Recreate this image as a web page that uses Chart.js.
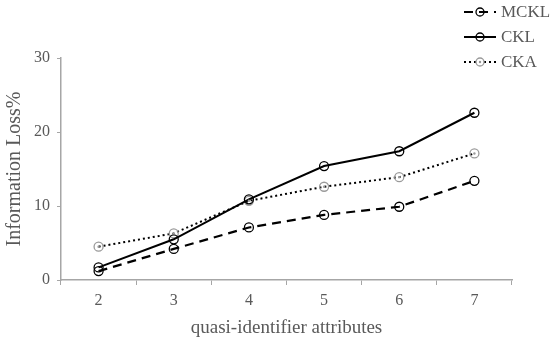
<!DOCTYPE html>
<html><head><meta charset="utf-8">
<script src="https://cdn.jsdelivr.net/npm/chart.js@4.4.1/dist/chart.umd.min.js"></script>
<style>html,body{margin:0;padding:0;background:#fff}#w{width:550px;height:342px}</style>
</head><body><div id="w"><canvas id="c"></canvas></div>
<script>
const categories = ['2','3','4','5','6','7'];
const mckl = [1.2, 4.2, 7.1, 8.8, 9.9, 13.4];
const ckl  = [1.7, 5.5, 10.9, 15.4, 17.4, 22.6];
const cka  = [4.5, 6.3, 10.7, 12.6, 13.9, 17.1];
const seriesNames = ['MCKL','CKL','CKA'];
const yTicks = [0, 10, 20, 30];

const FONT = "'Liberation Serif','DejaVu Serif',serif";
const TXT = '#595959';
const AX = '#a6a6a6';

const legendPlugin = {
  id: 'sideLegend',
  afterDraw(chart) {
    const ctx = chart.ctx;
    ctx.save();
    chart.data.datasets.forEach((ds, i) => {
      const y = 12 + i * 25;
      const x0 = 464, x1 = 496;
      ctx.strokeStyle = ds.borderColor;
      ctx.lineWidth = ds.borderWidth;
      ctx.setLineDash(ds.borderDash || []);
      ctx.beginPath(); ctx.moveTo(x0, y); ctx.lineTo(x1, y); ctx.stroke();
      ctx.setLineDash([]);
      ctx.strokeStyle = ds.pointBorderColor;
      ctx.lineWidth = ds.pointBorderWidth;
      ctx.beginPath(); ctx.arc((x0 + x1) / 2, y, ds.pointRadius - 0.5, 0, Math.PI * 2); ctx.stroke();
      if (ds.label === 'CKA') {
        ctx.fillStyle = ds.pointBorderColor;
        ctx.beginPath(); ctx.arc((x0 + x1) / 2, y, 1.2, 0, Math.PI * 2); ctx.fill();
      }
      ctx.fillStyle = TXT;
      ctx.font = "17px " + FONT;
      ctx.textBaseline = 'middle';
      ctx.textAlign = 'left';
      ctx.fillText(ds.label, 501, y + 1);
    });
    ctx.restore();
  }
};

const dotPlugin = {
  id: 'ckaDots',
  afterDatasetsDraw(chart) {
    const meta = chart.getDatasetMeta(2);
    const ctx = chart.ctx;
    ctx.save();
    ctx.fillStyle = '#9a9a9a';
    meta.data.forEach(p => { ctx.beginPath(); ctx.arc(p.x, p.y, 1.2, 0, Math.PI * 2); ctx.fill(); });
    ctx.restore();
  }
};

new Chart(document.getElementById('c'), {
  type: 'line',
  data: {
    labels: categories,
    datasets: [
      { label: seriesNames[0], data: mckl, borderColor: '#000', borderWidth: 2.2, borderDash: [9, 6],
        pointRadius: 4.5, pointBorderColor: '#000', pointBorderWidth: 1.3, pointBackgroundColor: 'rgba(0,0,0,0)', tension: 0 },
      { label: seriesNames[1], data: ckl, borderColor: '#000', borderWidth: 2, borderDash: [],
        pointRadius: 4.5, pointBorderColor: '#000', pointBorderWidth: 1.3, pointBackgroundColor: 'rgba(0,0,0,0)', tension: 0 },
      { label: seriesNames[2], data: cka, borderColor: '#000', borderWidth: 2, borderDash: [2, 3],
        pointRadius: 4.5, pointBorderColor: '#9a9a9a', pointBorderWidth: 1.3, pointBackgroundColor: 'rgba(0,0,0,0)', tension: 0 }
    ]
  },
  options: {
    responsive: true, maintainAspectRatio: false, animation: false,
    layout: { padding: { top: 58, right: 38, left: 0, bottom: 3 } },
    plugins: { legend: { display: false }, tooltip: { enabled: false } },
    scales: {
      x: {
        offset: true,
        grid: { offset: true, drawOnChartArea: false, color: AX, tickLength: 5, lineWidth: 1 },
        border: { color: AX, width: 1.5 },
        ticks: { color: TXT, font: { family: FONT, size: 16 }, padding: 6 },
        title: { display: true, text: 'quasi-identifier attributes', color: TXT, font: { family: FONT, size: 19 }, padding: { top: 0, bottom: 0 } }
      },
      y: {
        min: 0, max: 30,
        afterBuildTicks(scale) { scale.ticks = yTicks.map(v => ({ value: v })); },
        grid: { drawOnChartArea: false, color: AX, tickLength: 4 },
        border: { color: AX, width: 1.5 },
        ticks: { color: TXT, font: { family: FONT, size: 16 }, padding: 7 },
        title: { display: true, text: 'Information Loss%', color: TXT, font: { family: FONT, size: 20 }, padding: { top: 3, bottom: 0 } }
      }
    }
  },
  plugins: [legendPlugin, dotPlugin]
});
</script></body></html>
